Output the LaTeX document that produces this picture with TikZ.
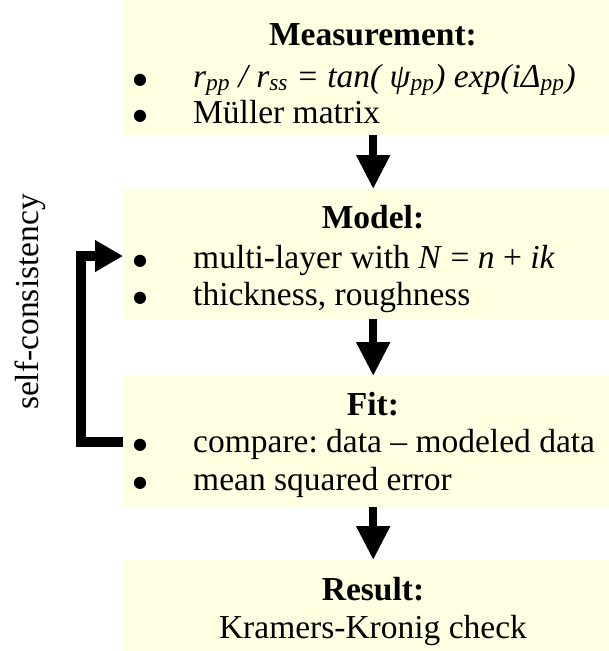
\documentclass[tikz,border=0pt]{standalone}
\usepackage{fontspec}
\setmainfont{Liberation Serif}
\newfontfamily\dotfont{DejaVu Sans}
\usetikzlibrary{arrows.meta}

\definecolor{boxfill}{RGB}{255,255,225}
\newcommand{\stagefont}{\fontsize{33.5}{40}\selectfont\frenchspacing}
\newcommand{\bul}{\makebox[60pt][l]{\raisebox{3pt}{\dotfont\fontsize{16}{16}\selectfont ●}}}

\begin{document}
\begin{tikzpicture}[x=1pt,y=-1pt,
  stage/.style={fill=boxfill,minimum width=500pt,minimum height=#1,inner sep=0pt,anchor=north west},
  head/.style={font=\stagefont\bfseries,anchor=base,inner sep=0pt},
  item/.style={font=\stagefont,anchor=base west,inner sep=0pt,text height=22pt,text depth=7pt},
  flow/.style={line width=8pt,-{Triangle[width=32pt,length=34pt]}},
  loop/.style={line width=10pt,-{Triangle[width=30pt,length=28pt]}}]
\useasboundingbox (0,0) rectangle (609,651);
\node[stage=135pt] (meas) at (123,0) {};
\node[stage=130pt] (model) at (123,189) {};
\node[stage=131pt] (fit) at (123,376) {};
\node[stage=100pt] (result) at (123,560) {};
\node[head] (meastitle) at (373,45) {Measurement:};
\node[item] (meas1) at (133,87) {\bul\textit{r\textsubscript{pp} / r\textsubscript{ss} = tan( ψ\textsubscript{pp}) exp(iΔ\textsubscript{pp})}};
\node[item] (meas2) at (133,123) {\bul Müller matrix};
\node[head] (modeltitle) at (373,228) {Model:};
\node[item] (model1) at (133,268) {\bul multi-layer with \textit{N} = \textit{n} + \textit{ik}};
\node[item] (model2) at (133,305) {\bul thickness, roughness};
\node[head] (fittitle) at (373,415) {Fit:};
\node[item] (fit1) at (133,452) {\bul compare: data -- modeled data};
\node[item] (fit2) at (133,490) {\bul mean squared error};
\node[head] (resulttitle) at (373,600) {Result:};
\node[font=\stagefont,anchor=base,inner sep=0pt] (result1) at (373,638) {Kramers-Kronig check};
\node[font=\stagefont,rotate=90,anchor=base,inner sep=0pt] (selfcons) at (38,302) {self-consistency};
\draw[flow] (meas) -- (model);
\draw[flow] (model) -- (fit);
\draw[flow] (fit) -- (result);
\coordinate (loopbot) at (81,442);
\coordinate (looptop) at (81,256);
\draw[loop] (loopbot -| fit.west) -- (loopbot) -- (looptop) -- (looptop -| model.west);
\end{tikzpicture}
\end{document}
